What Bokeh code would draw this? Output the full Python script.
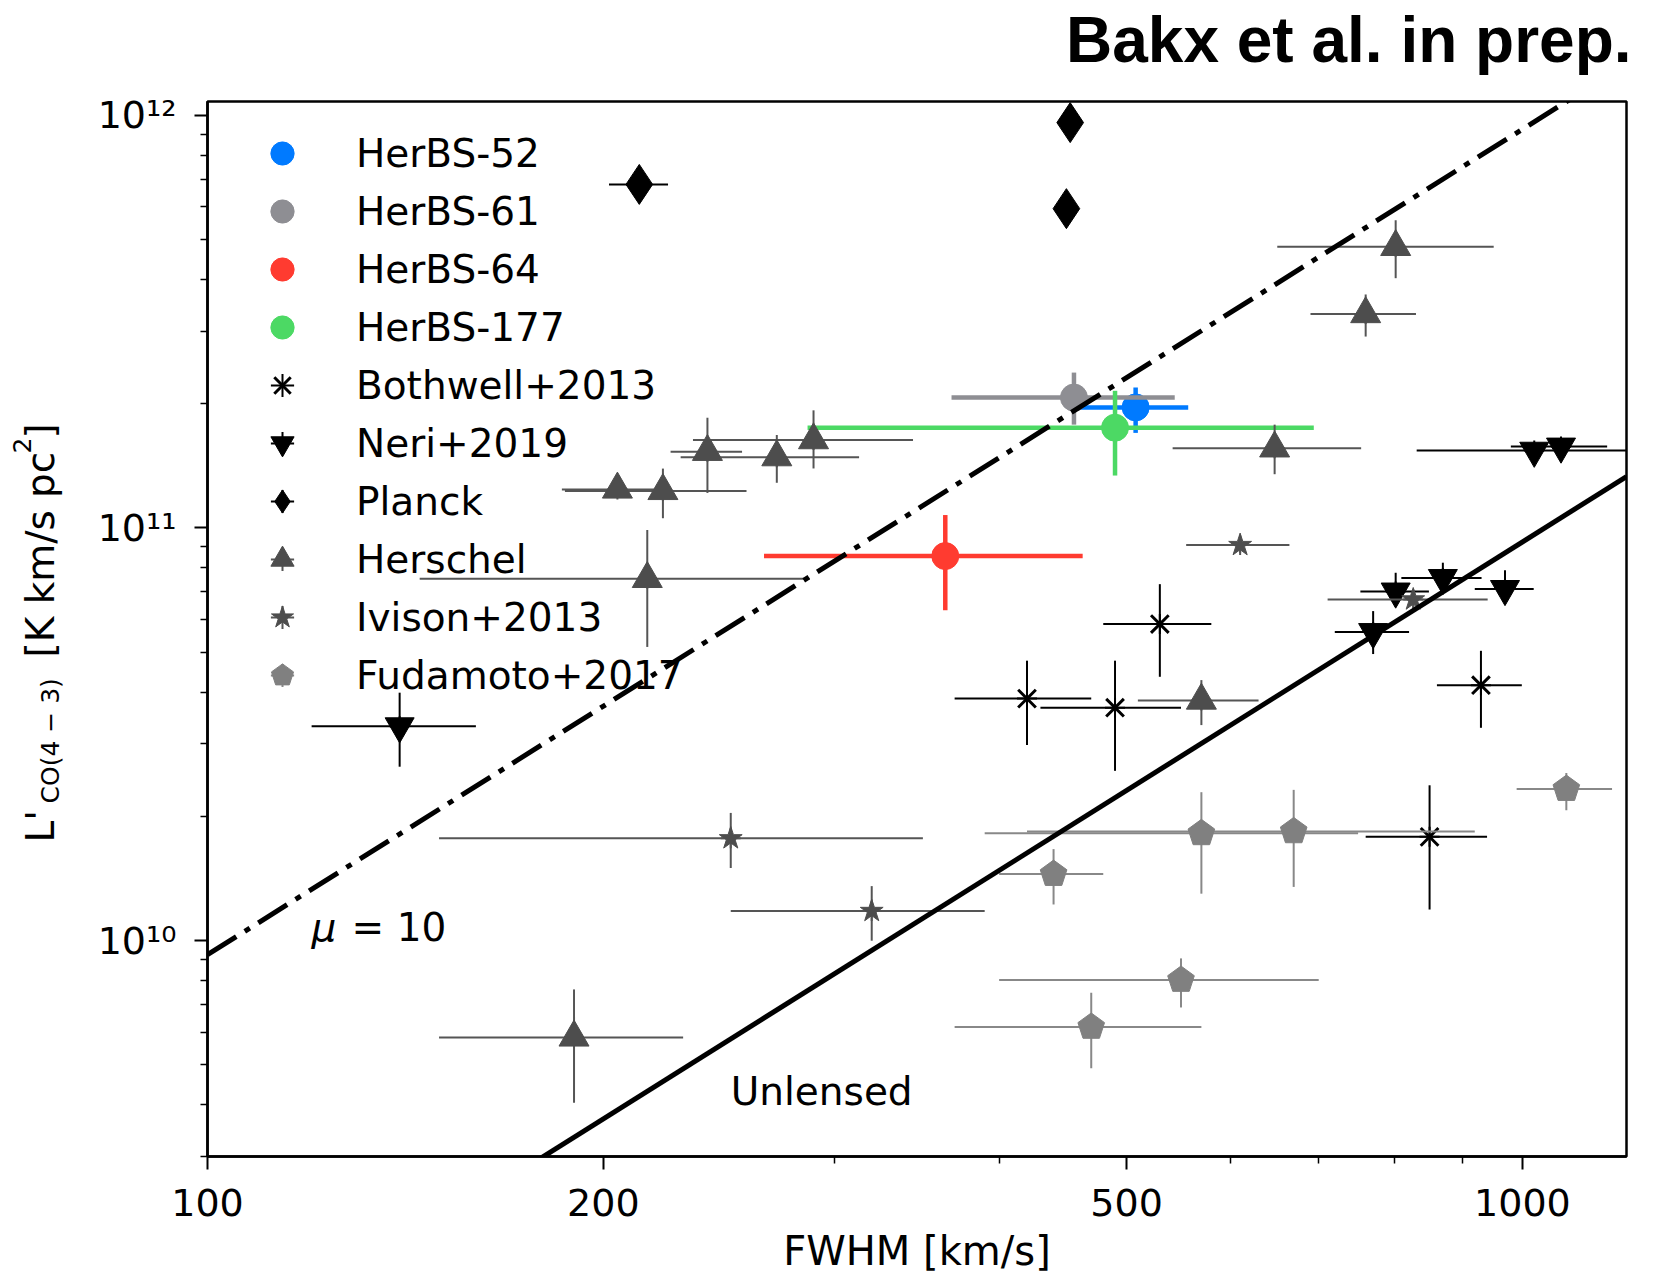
import numpy as np
from bokeh.plotting import figure
from bokeh.layouts import row, column
from bokeh.models import (ColumnDataSource, FixedTicker, CustomJSTickFormatter,
                          Label, Legend, LegendItem, Range1d)
from bokeh.embed import file_html
from bokeh.resources import INLINE

FONT = "DejaVu Sans"
BASE_SHIFT = 0.34  # em: correction for where a Label's alphabetic baseline is drawn

# ---------------- data ----------------
herbs_names = ["HerBS-52", "HerBS-61", "HerBS-64", "HerBS-177"]
herbs_colors = ["#007AFF", "#8E8E93", "#FF3B30", "#4CD964"]
herbs_fwhm = [508, 456, 364, 490]
herbs_fwhm_err = [49, 88, 99, 204]
herbs_L = [1.96e11, 2.07e11, 8.55e10, 1.75e11]
herbs_L_lo = [1.70e11, 1.78e11, 6.32e10, 1.34e11]
herbs_L_hi = [2.19e11, 2.38e11, 1.075e11, 2.15e11]

bothwell_fwhm = [530, 420, 490, 930, 850]
bothwell_fwhm_err = [50, 50, 60, 69, 90]
bothwell_L = [5.85e10, 3.86e10, 3.67e10, 4.16e10, 1.785e10]
bothwell_L_lo = [4.36e10, 2.98e10, 2.58e10, 3.28e10, 1.19e10]
bothwell_L_hi = [7.31e10, 4.77e10, 4.77e10, 5.04e10, 2.38e10]

neri_fwhm = [140, 1021, 1070, 801, 870, 970, 770]
neri_fwhm_err = [20, 190, 90, 48, 61, 50, 50]
neri_L = [3.31e10, 1.54e11, 1.576e11, 7.02e10, 7.57e10, 7.12e10, 5.6e10]
neri_L_lo = [2.64e10, 1.48e11, 1.52e11, 6.44e10, 7.0e10, 6.56e10, 4.95e10]
neri_L_hi = [3.99e10, 1.60e11, 1.63e11, 7.79e10, 8.24e10, 7.9e10, 6.29e10]

planck_fwhm = [213, 453, 450]
planck_fwhm_err = [11, 0, 0]
planck_L = [6.8e11, 9.6e11, 5.94e11]

herschel_fwhm = [205, 222, 240, 271, 289, 216, 801, 760, 648, 570, 190]
herschel_fwhm_err = [19, 35, 15, 42, 55, 71, 150, 70, 106, 60, 40]
herschel_L = [1.24e11, 1.23e11, 1.53e11, 1.485e11, 1.633e11, 7.53e10,
              4.80e11, 3.30e11, 1.56e11, 3.82e10, 5.83e9]
herschel_L_lo = [1.20e11, 1.056e11, 1.216e11, 1.287e11, 1.394e11, 5.15e10,
                 4.03e11, 2.91e11, 1.35e11, 3.33e10, 4.05e9]
herschel_L_hi = [1.28e11, 1.393e11, 1.85e11, 1.68e11, 1.928e11, 9.89e10,
                 5.57e11, 3.68e11, 1.78e11, 4.28e10, 7.62e9]

ivison_fwhm = [610, 826, 250, 320]
ivison_fwhm_err = [55, 115, 100, 70]
ivison_L = [9.09e10, 6.71e10, 1.77e10, 1.18e10]
ivison_L_lo = [8.7e10, 6.4e10, 1.50e10, 1.0e10]
ivison_L_hi = [9.5e10, 7.0e10, 2.04e10, 1.356e10]

fudamoto_fwhm = [440, 550, 470, 570, 670, 1080]
fudamoto_fwhm_err = [40, 150, 100, 180, 250, 90]
fudamoto_L = [1.45e10, 8.03e9, 6.18e9, 1.82e10, 1.84e10, 2.33e10]
fudamoto_L_lo = [1.224e10, 6.89e9, 4.91e9, 1.30e10, 1.35e10, 2.07e10]
fudamoto_L_hi = [1.667e10, 9.06e9, 7.48e9, 2.29e10, 2.32e10, 2.55e10]

# L' = coeff * FWHM^2 (unlensed relation) and the mu = 10 lensed relation
unlensed_coeff = 9.25e4
mu_lens = 10
model_fwhm = [100, 1200]

x_major = [100, 200, 500, 1000]
x_minor = [300, 400, 600, 700, 800, 900]
y_major = [1e10, 1e11, 1e12]
y_minor = [m * 10.0 ** e for e in (9, 10, 11) for m in range(2, 10)]

# ---------------- layout sizes ----------------
W_ALL, H_ALL = 1657, 1276
W_YLAB = 75          # strip holding the y-axis label
H_TITLE = 91         # strip holding the title
W_MAIN = W_ALL - W_YLAB
H_MAIN = H_ALL - H_TITLE
B_LEFT, B_RIGHT, B_TOP, B_BOTTOM = 132, 31, 10, 120


def strip(w, h, top=0, bottom=0):
    # data units = pixels from the strip's left / bottom edge
    f = figure(width=w, height=h, x_range=Range1d(0, w), y_range=Range1d(bottom, h - top),
               x_axis_type=None, y_axis_type=None, output_backend="svg",
               toolbar_location=None, min_border_left=0, min_border_right=0,
               min_border_top=top, min_border_bottom=bottom)
    f.outline_line_color = None
    f.grid.visible = False
    f.background_fill_color = "white"
    f.border_fill_color = "white"
    return f


def text_label(fig, x, y, txt, size, **kw):
    fs = float(size.replace("px", ""))
    kw.setdefault("y_offset", 0)
    kw["y_offset"] += BASE_SHIFT * fs
    fig.add_layout(Label(x=x, y=y, text=txt, text_font=FONT, text_font_size=size,
                         text_color="black", text_baseline="alphabetic", **kw))


# ---------------- main figure ----------------
p = figure(width=W_MAIN, height=H_MAIN, x_axis_type="log", y_axis_type="log",
           x_range=Range1d(100, 1200), y_range=Range1d(3.0e9, 1.08e12),
           output_backend="svg", toolbar_location=None,
           min_border_left=B_LEFT, min_border_right=B_RIGHT,
           min_border_top=B_TOP, min_border_bottom=B_BOTTOM)
p.title.visible = False
p.background_fill_color = "white"
p.border_fill_color = "white"
p.grid.visible = False
p.outline_line_color = "black"
p.outline_line_width = 2.5
p.outline_line_alpha = 1.0

for ax in (p.xaxis[0], p.yaxis[0]):
    ax.axis_line_width = 2.5
    ax.major_tick_out = 13
    ax.major_tick_in = 0
    ax.minor_tick_out = 7
    ax.minor_tick_in = 0
    ax.major_tick_line_width = 2
    ax.minor_tick_line_width = 1.5
    ax.major_label_text_font = FONT
    ax.major_label_text_font_size = "38px"
    ax.major_label_text_color = "black"

p.xaxis.ticker = FixedTicker(ticks=x_major, minor_ticks=x_minor)
p.yaxis.ticker = FixedTicker(ticks=y_major, minor_ticks=y_minor)
p.xaxis.formatter = CustomJSTickFormatter(code="return tick.toFixed(0);")
p.yaxis.formatter = CustomJSTickFormatter(code="""
const sup = {"0":"\u2070","1":"\u00b9","2":"\u00b2","3":"\u00b3","4":"\u2074",
             "5":"\u2075","6":"\u2076","7":"\u2077","8":"\u2078","9":"\u2079","-":"\u207b"};
const e = Math.round(Math.log10(tick));
return "10" + String(e).split("").map(c => sup[c]).join("");
""")
p.xaxis.major_label_standoff = 19
p.yaxis.major_label_standoff = 18
p.xaxis.axis_label = "FWHM [km/s]"
p.xaxis.axis_label_text_font = FONT
p.xaxis.axis_label_text_font_size = "40px"
p.xaxis.axis_label_text_font_style = "normal"
p.xaxis.axis_label_text_color = "black"
p.xaxis.axis_label_standoff = 9


def errbars(x, dx, y, ylo, yhi, color, width):
    x = np.asarray(x, float); dx = np.asarray(dx, float)
    y = np.asarray(y, float); ylo = np.asarray(ylo, float); yhi = np.asarray(yhi, float)
    src = ColumnDataSource(dict(x0=x - dx, x1=x + dx, y=y, x=x, ylo=ylo, yhi=yhi))
    p.segment(x0="x0", x1="x1", y0="y", y1="y", source=src,
              line_color=color, line_width=width)
    p.segment(x0="x", x1="x", y0="ylo", y1="yhi", source=src,
              line_color=color, line_width=width)


def center_cross(x, y, color, width):
    # small cross at each point (hidden under the marker; shows as error cross in legend)
    return p.scatter(x=x, y=y, marker="cross", size=20, line_color=color,
                     line_width=width)


legend_items = []

# HerBS sources
for i, name in enumerate(herbs_names):
    c = herbs_colors[i]
    errbars([herbs_fwhm[i]], [herbs_fwhm_err[i]], [herbs_L[i]], [herbs_L_lo[i]],
            [herbs_L_hi[i]], c, 4.5)
    cr = center_cross([herbs_fwhm[i]], [herbs_L[i]], c, 4.5)
    r = p.scatter(x=[herbs_fwhm[i]], y=[herbs_L[i]], marker="circle", size=27,
                  fill_color=c, line_color=c)
    legend_items.append(LegendItem(label=name, renderers=[cr, r]))

# Bothwell+2013
errbars(bothwell_fwhm, bothwell_fwhm_err, bothwell_L, bothwell_L_lo, bothwell_L_hi, "black", 2)
cr = center_cross(bothwell_fwhm, bothwell_L, "black", 2)
r = p.scatter(x=bothwell_fwhm, y=bothwell_L, marker="x", size=25, line_color="black", line_width=3)
legend_items.append(LegendItem(label="Bothwell+2013", renderers=[cr, r]))

# Neri+2019
errbars(neri_fwhm, neri_fwhm_err, neri_L, neri_L_lo, neri_L_hi, "black", 2)
cr = center_cross(neri_fwhm, neri_L, "black", 2)
r = p.scatter(x=neri_fwhm, y=neri_L, marker="inverted_triangle", size=29,
              fill_color="black", line_color="black")
legend_items.append(LegendItem(label="Neri+2019", renderers=[cr, r]))

# Planck
errbars(planck_fwhm, planck_fwhm_err, planck_L, planck_L, planck_L, "black", 2)
cr = center_cross(planck_fwhm, planck_L, "black", 2)
r = p.scatter(x=planck_fwhm, y=planck_L, marker="diamond", size=40,
              fill_color="black", line_color="black")
legend_items.append(LegendItem(label="Planck", renderers=[cr, r]))

# Herschel
HC = "#4d4d4d"
errbars(herschel_fwhm, herschel_fwhm_err, herschel_L, herschel_L_lo, herschel_L_hi, "#555555", 2)
cr = center_cross(herschel_fwhm, herschel_L, "#555555", 2)
r = p.scatter(x=herschel_fwhm, y=herschel_L, marker="triangle", size=30,
              fill_color=HC, line_color=HC)
legend_items.append(LegendItem(label="Herschel", renderers=[cr, r]))

# Ivison+2013
errbars(ivison_fwhm, ivison_fwhm_err, ivison_L, ivison_L_lo, ivison_L_hi, "#555555", 2)
cr = center_cross(ivison_fwhm, ivison_L, "#555555", 2)
r = p.scatter(x=ivison_fwhm, y=ivison_L, marker="star", size=24,
              fill_color=HC, line_color=HC)
legend_items.append(LegendItem(label="Ivison+2013", renderers=[cr, r]))

# Fudamoto+2017
FC = "#808080"
errbars(fudamoto_fwhm, fudamoto_fwhm_err, fudamoto_L, fudamoto_L_lo, fudamoto_L_hi, "#888888", 2)
cr = center_cross(fudamoto_fwhm, fudamoto_L, "#888888", 2)
try:
    r = p.ngon(x=fudamoto_fwhm, y=fudamoto_L, radius=14, radius_units="screen", n=5,
               fill_color=FC, line_color=FC)
except Exception:
    r = p.scatter(x=fudamoto_fwhm, y=fudamoto_L, marker="hex", size=26,
                  fill_color=FC, line_color=FC)
legend_items.append(LegendItem(label="Fudamoto+2017", renderers=[cr, r]))

# model relations (drawn on top)
mf = np.asarray(model_fwhm, float)
p.line(mf, unlensed_coeff * mf ** 2, line_color="black", line_width=5)
p.line(mf, mu_lens * unlensed_coeff * mf ** 2, line_color="black", line_width=5,
       line_dash="34 10 6 10")

# text annotations in data space
text_label(p, 120, 1.0e10, "μ", "39px", text_font_style="italic")
text_label(p, 120, 1.0e10, "= 10", "39px", x_offset=40)
text_label(p, 250, 4.0e9, "Unlensed", "39px")

legend = Legend(items=legend_items, location=(46, 452), glyph_width=58,
                glyph_height=58, spacing=0, padding=0, margin=0,
                label_standoff=45, label_text_font=FONT, label_text_color="black",
                label_text_font_size="39px", background_fill_alpha=0,
                border_line_alpha=0)
p.add_layout(legend)

# ---------------- title strip (full width) ----------------
tfig = strip(W_ALL, H_TITLE)
tfig.add_layout(Label(x=1631, y=H_TITLE - 61 + BASE_SHIFT * 64,
                      text="Bakx et al. in prep.", text_font="Liberation Sans",
                      text_font_style="bold", text_font_size="64px",
                      text_color="black", text_align="right",
                      text_baseline="alphabetic"))

# ---------------- y-axis label strip (rotated, with sub/superscripts) ----------------
yfig = strip(W_YLAB, H_MAIN, top=B_TOP, bottom=B_BOTTOM)
bottom_canvas = H_TITLE + H_MAIN
ylabel_parts = [("L'", 53, 842, 39), ("CO(4 − 3)", 58, 803, 25),
                ("[K km/s pc", 53, 657, 39), ("2", 30, 453, 25),
                ("]", 53, 438, 39)]
for txt, bx, sy, fs in ylabel_parts:
    yfig.add_layout(Label(x=bx - BASE_SHIFT * fs, y=bottom_canvas - sy, text=txt,
                          angle=np.pi / 2, text_font=FONT,
                          text_font_size=f"{fs}px", text_color="black",
                          text_baseline="alphabetic", text_align="left"))

layout = column(tfig, row(yfig, p))
open("out.html", "w").write(file_html(layout, INLINE))
